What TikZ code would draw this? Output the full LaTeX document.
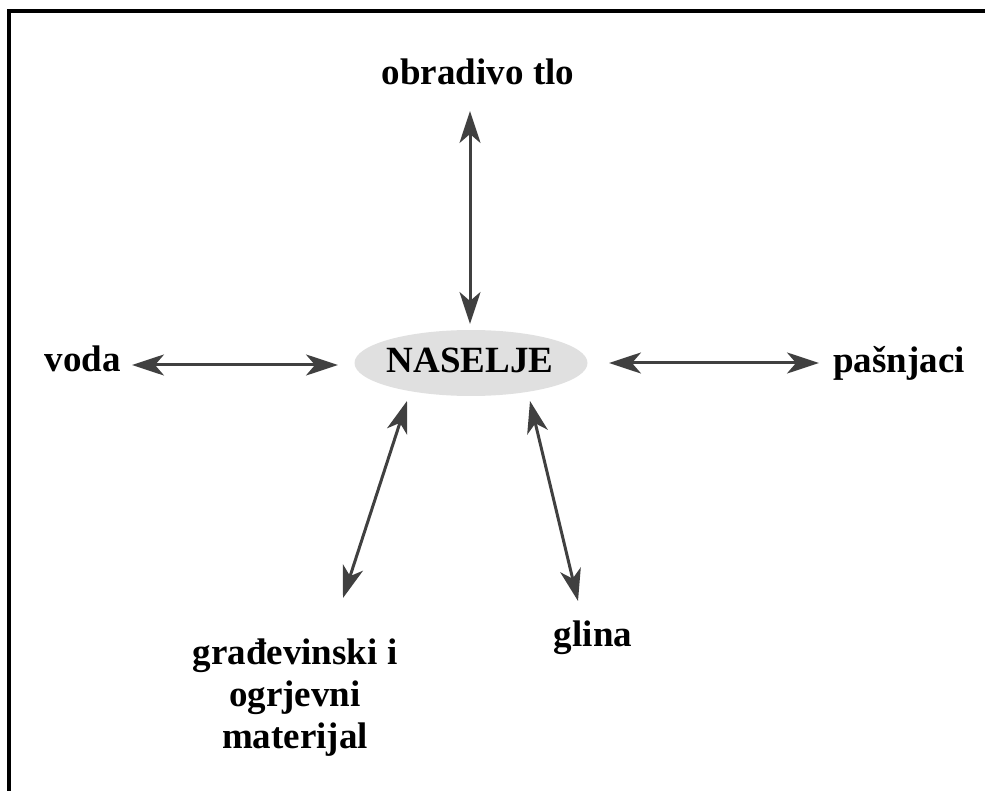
\documentclass[tikz,border=0pt]{standalone}
\usepackage{fontspec}
\setmainfont{Liberation Serif}
\usetikzlibrary{arrows.meta,shapes.geometric}
\definecolor{arrowgray}{HTML}{404040}
\definecolor{ellgray}{HTML}{E0E0E0}
\begin{document}
\begin{tikzpicture}[x=1pt,y=-1pt,
  lbl/.style={font=\fontsize{37}{42}\selectfont\bfseries, text=black, inner sep=0pt, align=center},
  link/.style={draw=arrowgray, line width=3pt,
    {Stealth[length=32pt,width=21pt,inset=9pt]}-{Stealth[length=32pt,width=21pt,inset=9pt]}},
  frameline/.style={draw=black, line width=4pt}]
\useasboundingbox (0,0) rectangle (985,791);
\draw[frameline] (8.5,791) -- (8.5,11.5) -- (985,11.5);
\node[ellipse, fill=ellgray, minimum width=233pt, minimum height=66pt, inner sep=0pt] (ell) at (471,363) {};
\node[lbl, anchor=base] (naselje) at (470,373) {NASELJE};
\node[lbl, anchor=base] (tlo) at (478,85) {obradivo tlo};
\node[lbl, anchor=base east] (voda) at (121,372) {voda};
\node[lbl, anchor=base west] (pas) at (833,373) {pašnjaci};
\node[lbl, anchor=base] (glina) at (593,646) {glina};
\node[lbl, anchor=north, font=\fontsize{37}{42}\selectfont\bfseries] (grad) at (295,639) {građevinski i\\ogrjevni\\materijal};
\coordinate (t1) at (470,111);
\coordinate (t2) at (470,324);
\coordinate (v1) at (132,365);
\coordinate (v2) at (338,365);
\coordinate (p1) at (609,363);
\coordinate (p2) at (819,363);
\coordinate (g1) at (407,401);
\coordinate (g2) at (343,598);
\coordinate (c1) at (530,401);
\coordinate (c2) at (578,601);
\draw[link] (t1) -- (t2);
\draw[link] (v1) -- (v2);
\draw[link] (p1) -- (p2);
\draw[link] (g1) -- (g2);
\draw[link] (c1) -- (c2);
\end{tikzpicture}
\end{document}
